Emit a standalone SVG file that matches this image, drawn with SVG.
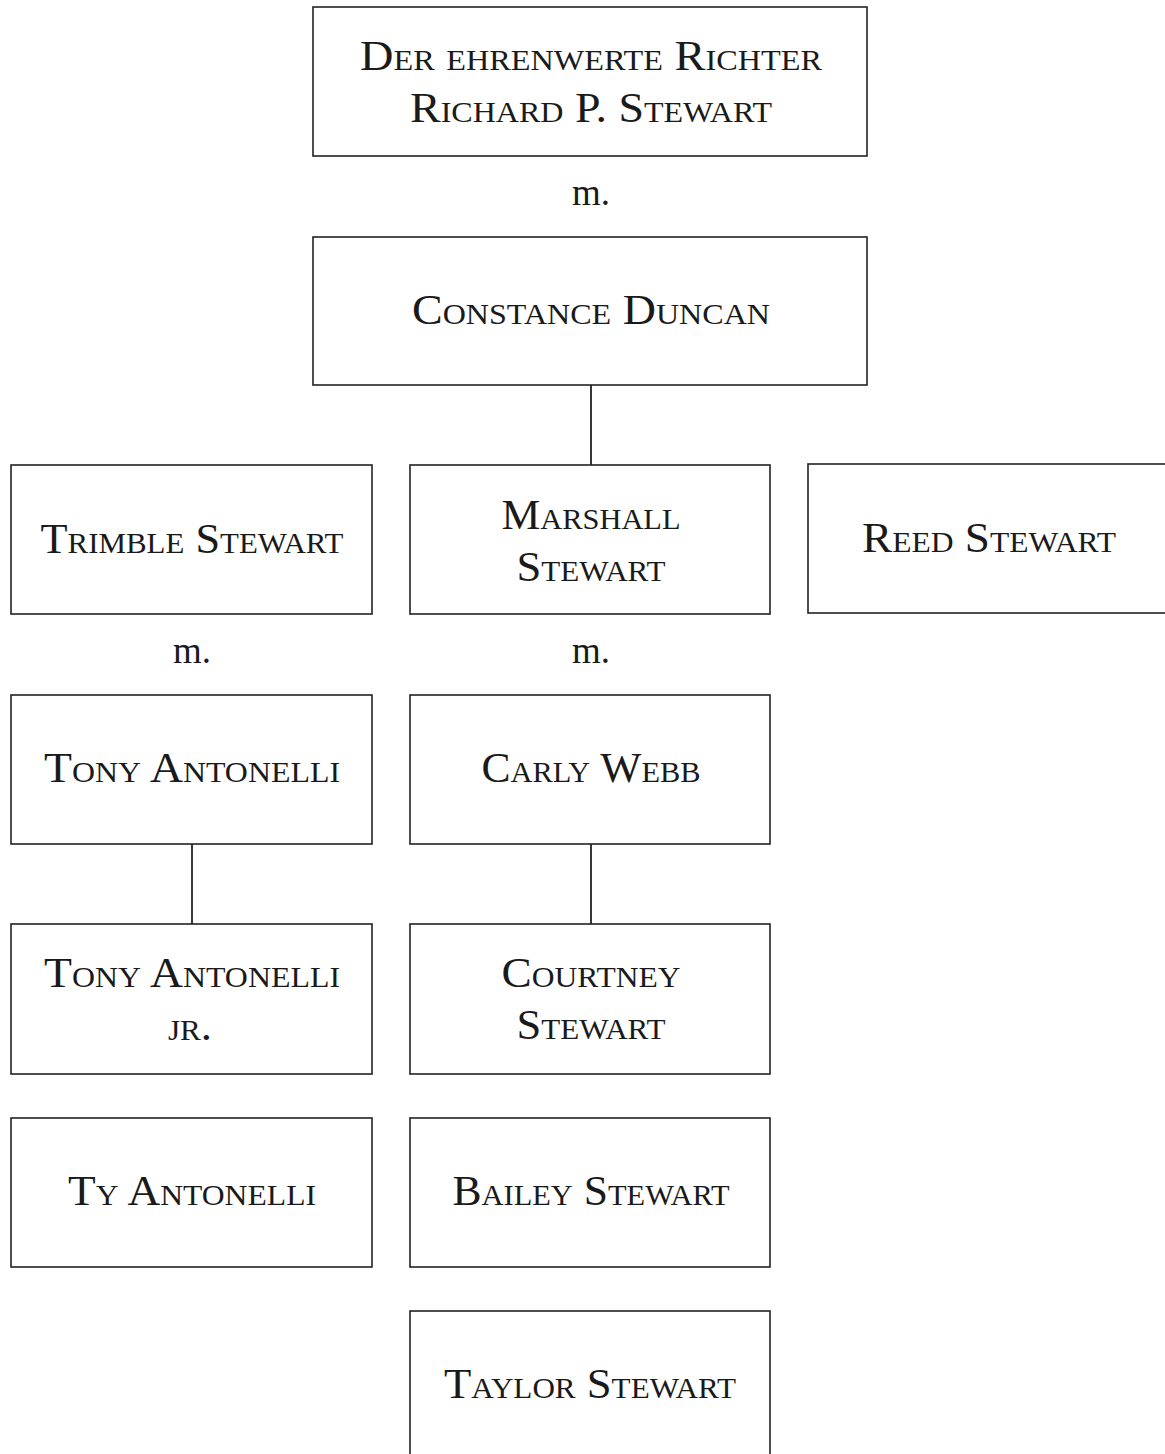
<svg xmlns="http://www.w3.org/2000/svg" width="1165" height="1454" viewBox="0 0 1165 1454">
<style>
.box{fill:#fff;stroke:#222;stroke-width:1.6}
.t{font-family:"Liberation Serif","Times New Roman",serif;font-size:43px;font-variant:small-caps;fill:#1a1a1a;text-anchor:middle}
.m{font-family:"Liberation Serif","Times New Roman",serif;font-size:37px;fill:#1a1a1a;text-anchor:middle}
.c{stroke:#222;stroke-width:1.8;fill:none}
</style>
<rect width="1165" height="1454" fill="#fff"/>
<g id="connectors">
<line class="c" x1="591" y1="385" x2="591" y2="465"/>
<line class="c" x1="192" y1="844" x2="192" y2="924"/>
<line class="c" x1="591" y1="844" x2="591" y2="924"/>
</g>
<g id="n-richard">
<rect class="box" x="313" y="7" width="554" height="149"/>
<text class="t" x="591" y="70" textLength="462" lengthAdjust="spacingAndGlyphs">Der ehrenwerte Richter</text>
<text class="t" x="591" y="122" textLength="362" lengthAdjust="spacingAndGlyphs">Richard P. Stewart</text>
</g>
<text id="m-1" class="m" x="591" y="205">m.</text>
<g id="n-constance">
<rect class="box" x="313" y="237" width="554" height="148"/>
<text class="t" x="591" y="324" textLength="358" lengthAdjust="spacingAndGlyphs">Constance Duncan</text>
</g>
<g id="n-trimble">
<rect class="box" x="11" y="465" width="361" height="149"/>
<text class="t" x="192" y="553" textLength="303" lengthAdjust="spacingAndGlyphs">Trimble Stewart</text>
</g>
<g id="n-marshall">
<rect class="box" x="410" y="465" width="360" height="149"/>
<text class="t" x="591" y="529" textLength="179" lengthAdjust="spacingAndGlyphs">Marshall</text>
<text class="t" x="591" y="581" textLength="149" lengthAdjust="spacingAndGlyphs">Stewart</text>
</g>
<g id="n-reed">
<rect class="box" x="808" y="464" width="361" height="149"/>
<text class="t" x="989" y="552" textLength="254" lengthAdjust="spacingAndGlyphs">Reed Stewart</text>
</g>
<text id="m-2" class="m" x="192" y="663">m.</text>
<text id="m-3" class="m" x="591" y="663">m.</text>
<g id="n-tony">
<rect class="box" x="11" y="695" width="361" height="149"/>
<text class="t" x="192" y="782" textLength="296" lengthAdjust="spacingAndGlyphs">Tony Antonelli</text>
</g>
<g id="n-carly">
<rect class="box" x="410" y="695" width="360" height="149"/>
<text class="t" x="591" y="782" textLength="219" lengthAdjust="spacingAndGlyphs">Carly Webb</text>
</g>
<g id="n-tonyjr">
<rect class="box" x="11" y="924" width="361" height="150"/>
<text class="t" x="192" y="987" textLength="296" lengthAdjust="spacingAndGlyphs">Tony Antonelli</text>
<text class="t" x="190" y="1040" textLength="44" lengthAdjust="spacingAndGlyphs">jr.</text>
</g>
<g id="n-courtney">
<rect class="box" x="410" y="924" width="360" height="150"/>
<text class="t" x="591" y="987" textLength="179" lengthAdjust="spacingAndGlyphs">Courtney</text>
<text class="t" x="591" y="1039" textLength="149" lengthAdjust="spacingAndGlyphs">Stewart</text>
</g>
<g id="n-ty">
<rect class="box" x="11" y="1118" width="361" height="149"/>
<text class="t" x="192" y="1205" textLength="248" lengthAdjust="spacingAndGlyphs">Ty Antonelli</text>
</g>
<g id="n-bailey">
<rect class="box" x="410" y="1118" width="360" height="149"/>
<text class="t" x="591" y="1205" textLength="277" lengthAdjust="spacingAndGlyphs">Bailey Stewart</text>
</g>
<g id="n-taylor">
<rect class="box" x="410" y="1311" width="360" height="160"/>
<text class="t" x="590" y="1398" textLength="292" lengthAdjust="spacingAndGlyphs">Taylor Stewart</text>
</g>
</svg>
